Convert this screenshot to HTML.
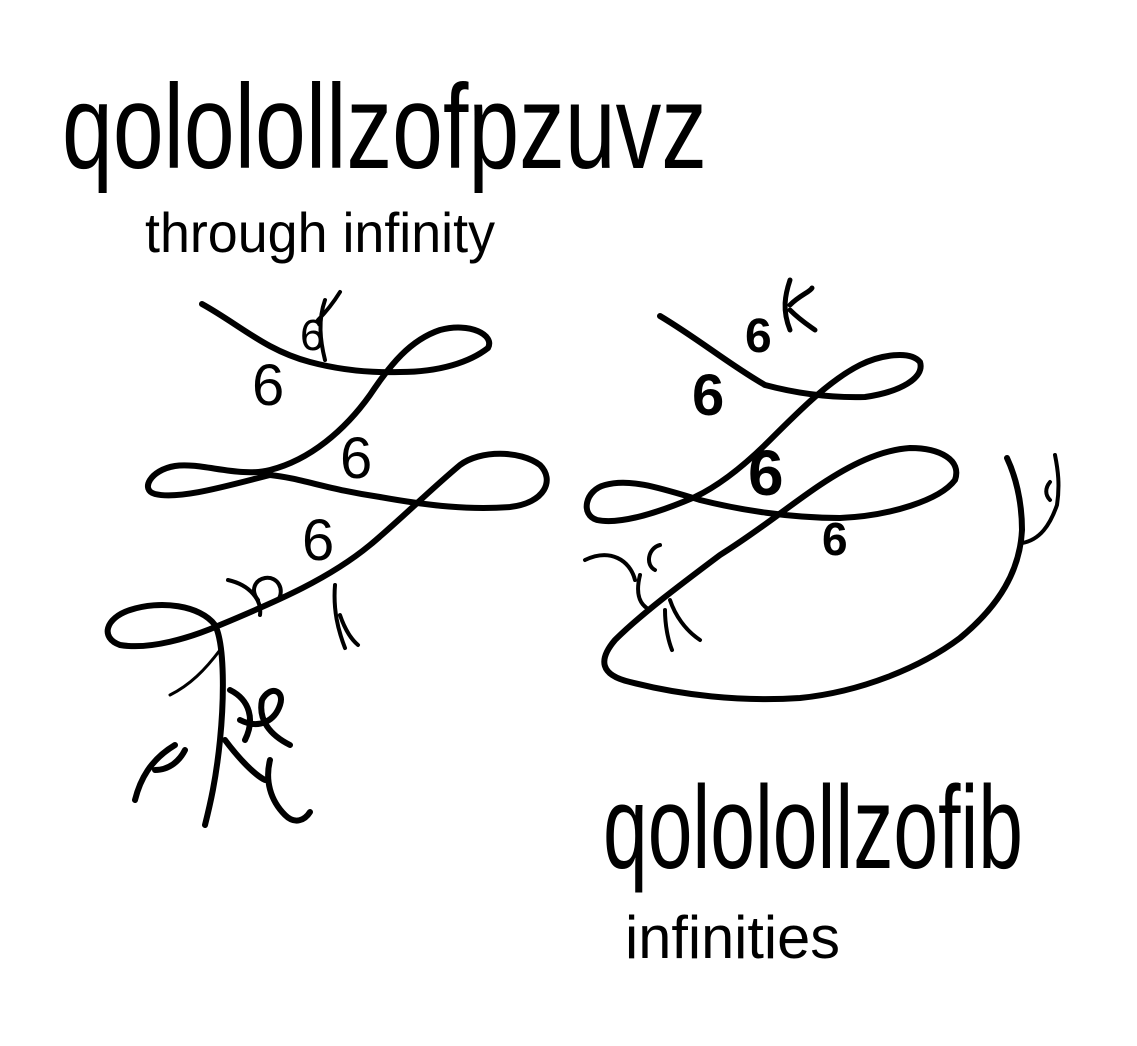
<!DOCTYPE html>
<html><head><meta charset="utf-8"><style>
html,body{margin:0;padding:0;background:#fff;width:1137px;height:1046px;overflow:hidden}
svg{display:block}
text{font-family:"Liberation Sans Narrow","Liberation Sans",sans-serif;fill:#000}
</style></head><body>
<svg width="1137" height="1046" viewBox="0 0 1137 1046">
<g>
<text x="62" y="168" font-size="120" textLength="645" lengthAdjust="spacingAndGlyphs">qololollzofpzuvz</text>
<text x="145" y="252" font-size="56" textLength="350" lengthAdjust="spacingAndGlyphs">through infinity</text>
</g>
<g>
<text x="603" y="868" font-size="118" textLength="420" lengthAdjust="spacingAndGlyphs">qololollzofib</text>
<text x="625" y="958" font-size="60" textLength="215" lengthAdjust="spacingAndGlyphs">infinities</text>
</g>
<g fill="none" stroke="#000" stroke-linecap="round" stroke-linejoin="round">
<path stroke-width="6" d="M202,304 C240,325 265,350 310,362 C340,370 370,373 400,372 C440,372 470,362 488,348 C495,335 470,322 440,330 C410,340 390,365 370,395 C345,430 310,460 270,470 C240,478 200,462 175,466 C150,470 140,490 155,494 C180,500 230,485 270,475 C300,478 330,490 380,497 C430,506 470,510 510,507 C545,503 555,480 540,465 C520,450 480,450 460,465 C430,490 400,520 370,545 C330,578 280,600 220,625 C190,638 150,650 120,645 C100,638 105,618 130,610 C160,600 200,605 215,625 C225,645 224,700 220,740 C216,780 210,805 205,825"/>
<path stroke-width="3" d="M220,650 C205,670 190,685 170,695"/>
<path stroke-width="4" d="M325,360 C320,340 318,320 325,300 M318,320 C328,310 335,300 340,292"/>
<path stroke-width="4" d="M335,585 C333,610 338,630 345,648 M340,615 C345,630 352,640 358,645"/>
<path stroke-width="6" d="M230,690 C250,700 255,720 245,740 M240,720 C260,730 275,720 280,705 C285,690 270,685 262,700 C258,720 270,735 290,745"/>
<path stroke-width="6" d="M225,740 C240,760 255,775 265,780 M270,760 C265,780 270,800 285,815 C295,825 305,820 310,812 M175,745 C150,760 140,780 135,800 M155,770 C170,770 180,760 185,750"/>
<path stroke-width="4" d="M228,580 C250,585 262,600 260,615 M258,600 C250,590 255,580 265,578 C278,576 285,590 278,600"/>
</g>
<g font-size="58">
<text x="252" y="405">6</text>
<text x="340" y="478">6</text>
<text x="302" y="560">6</text>
<text x="300" y="350" font-size="44">6</text>
</g>
<g fill="none" stroke="#000" stroke-linecap="round" stroke-linejoin="round">
<path stroke-width="6" d="M660,316 C700,340 730,365 765,385 C795,393 830,398 865,397 C900,392 925,378 920,362 C910,350 880,355 860,365 C830,380 800,410 770,440 C745,465 720,485 695,497 C660,512 620,525 597,520 C580,515 585,490 605,485 C630,478 660,488 700,500 C740,510 790,518 840,518 C890,516 940,500 955,480 C962,460 940,448 910,448 C880,450 850,465 820,485 C790,505 760,530 720,555 C680,585 640,615 615,640 C598,660 600,675 630,682 C680,695 740,702 800,698 C860,692 920,668 960,638 C1000,605 1020,570 1022,530 C1022,500 1015,475 1007,458"/>
<path stroke-width="4" d="M1022,543 C1040,540 1050,525 1057,505 C1060,485 1058,470 1055,455 M1050,500 C1045,495 1045,488 1050,482"/>
<path stroke-width="5" d="M790,330 C782,310 785,295 790,280 M790,305 C800,295 810,292 812,288 M790,310 C800,320 808,325 815,330"/>
<path stroke-width="4" d="M585,560 C610,548 630,560 635,580 M640,575 C635,595 640,605 650,610 M670,600 C675,615 685,630 700,640 M665,610 C665,625 668,640 672,650 M660,545 C648,548 645,565 655,570"/>
</g>
<g font-size="58" font-weight="bold">
<text x="692" y="415">6</text>
<text x="748" y="495" font-size="64">6</text>
<text x="822" y="555" font-size="46">6</text>
<text x="745" y="352" font-size="48">6</text>
</g>
</svg>
</body></html>
